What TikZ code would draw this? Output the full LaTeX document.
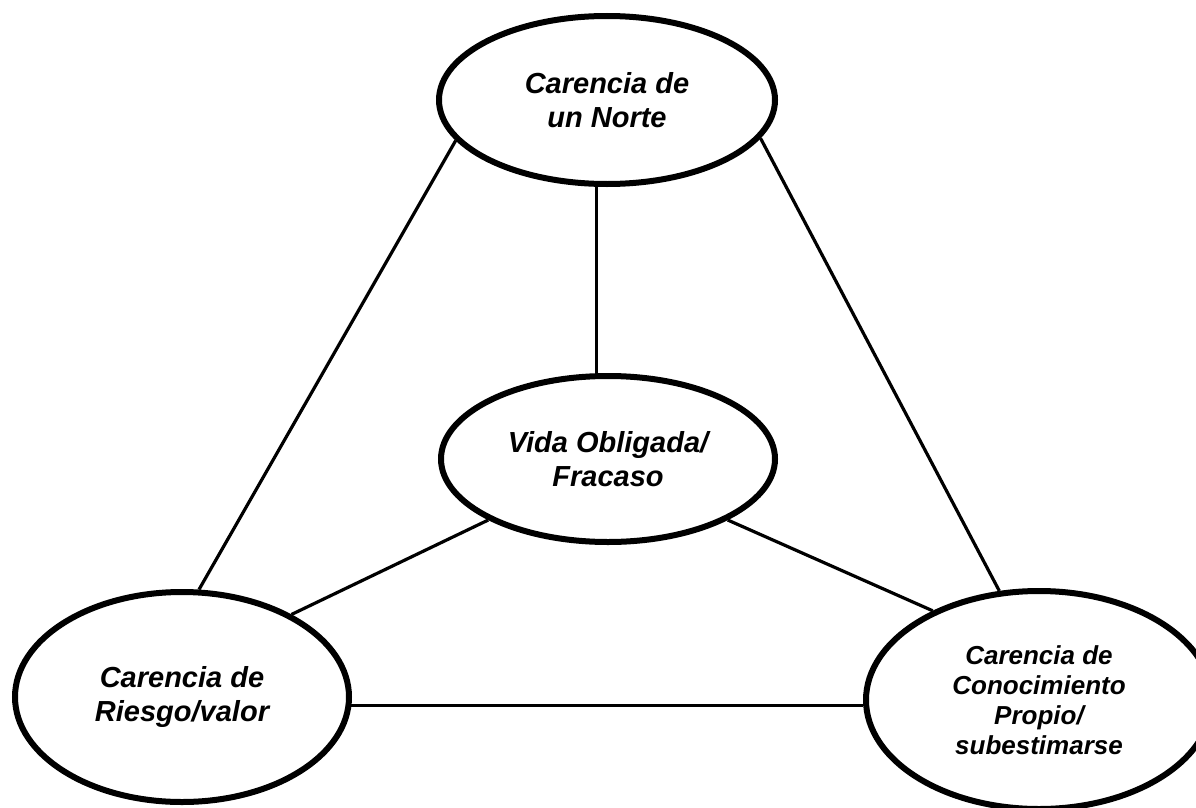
\documentclass[tikz,border=0pt]{standalone}
\usepackage{fontspec}
\setmainfont{Liberation Sans}
\usetikzlibrary{shapes.geometric}
\begin{document}
\begin{tikzpicture}[x=1pt,y=-1pt,
    bubble/.style={draw,ellipse,line width=6pt,align=center,inner sep=0pt,
        font=\fontsize{29}{33.4}\selectfont\bfseries\itshape},
    link/.style={line width=3.2pt}]
    \useasboundingbox (0,0) rectangle (1196,808);
    % the four ideas
    \node[bubble,minimum width=336pt,minimum height=168pt] (norte) at (607,100) {Carencia de\\un Norte};
    \node[bubble,minimum width=334pt,minimum height=166pt] (vida) at (608,459) {Vida Obligada/\\Fracaso};
    \node[bubble,minimum width=334pt,minimum height=210pt] (riesgo) at (182,697) {Carencia de\\Riesgo/valor};
    \node[bubble,minimum width=346pt,minimum height=218pt,
        font=\fontsize{26}{30}\selectfont\bfseries\itshape] (conoc) at (1039,700)
        {Carencia de\\Conocimiento\\Propio/\\subestimarse};
    % links
    \draw[link] (norte.195) -- (riesgo.81);
    \draw[link] (norte.346) -- (conoc.110);
    \draw[link] (norte.263) -- (norte.263 |- vida.north);
    \draw[link] (vida.207) -- (riesgo.37);
    \draw[link] (vida.333) -- (conoc.140);
    \draw[link] (riesgo.357) -- (riesgo.357 -| conoc.west);
\end{tikzpicture}
\end{document}
